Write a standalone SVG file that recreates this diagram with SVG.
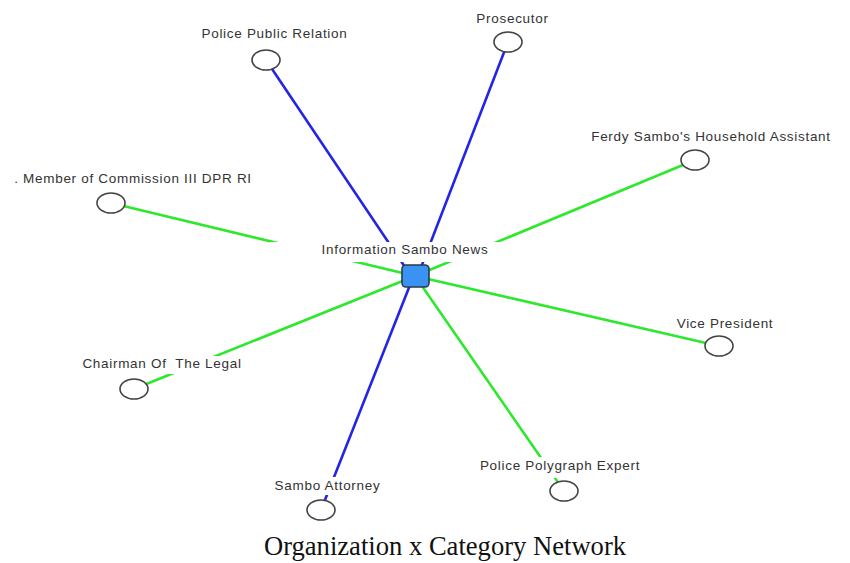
<svg xmlns="http://www.w3.org/2000/svg" width="850" height="563" viewBox="0 0 850 563">
<style>
.edge{fill:none;stroke-width:2.6;stroke-linecap:butt}
.blue{stroke:#2424e6}
.green{stroke:#2ee82e}
.lb{fill:#ffffff;stroke:none}
.lt{font-family:"Liberation Sans",Arial,sans-serif;font-size:13.5px;letter-spacing:0.7px;fill:#333333;text-anchor:middle;white-space:pre}
.nd{fill:#ffffff;stroke:#444444;stroke-width:1.6}
.cap{font-family:"Liberation Serif","Times New Roman",serif;font-size:26.6px;fill:#111111;text-anchor:middle}
</style>
<rect width="850" height="563" fill="#ffffff"/>
<g id="connectors">
<line class="edge blue" x1="266" y1="60" x2="407" y2="270"/>
<line class="edge blue" x1="508" y1="42" x2="420" y2="270"/>
<line class="edge green" x1="695" y1="160" x2="415" y2="276"/>
<line class="edge green" x1="111" y1="203" x2="415" y2="276"/>
<line class="edge green" x1="719" y1="346" x2="415" y2="276"/>
<line class="edge green" x1="134" y1="389" x2="415" y2="276"/>
<line class="edge blue" x1="321" y1="510" x2="412" y2="280"/>
<line class="edge green" x1="564" y1="491" x2="415" y2="276"/>
</g>
<g id="label-boxes">
<rect class="lb" x="270" y="242" width="236" height="20"/>
<rect class="lb" x="78" y="356" width="168" height="18"/>
<rect class="lb" x="476" y="457" width="168" height="21"/>
<rect class="lb" x="271" y="477" width="113" height="18"/>
</g>
<g id="n-police-public-relation">
<ellipse class="nd" cx="266" cy="60" rx="14" ry="10"/>
<text class="lt" x="274.5" y="38">Police Public Relation</text>
</g>
<g id="n-prosecutor">
<ellipse class="nd" cx="508" cy="42" rx="14" ry="10"/>
<text class="lt" x="512.5" y="23">Prosecutor</text>
</g>
<g id="n-household-assistant">
<ellipse class="nd" cx="695" cy="160" rx="14" ry="10"/>
<text class="lt" x="711" y="141">Ferdy Sambo's Household Assistant</text>
</g>
<g id="n-member-commission">
<ellipse class="nd" cx="111" cy="203" rx="14" ry="10"/>
<text class="lt" x="133" y="183">. Member of Commission III DPR RI</text>
</g>
<g id="n-vice-president">
<ellipse class="nd" cx="719" cy="346" rx="14" ry="10"/>
<text class="lt" x="725" y="328">Vice President</text>
</g>
<g id="n-chairman">
<ellipse class="nd" cx="134" cy="389" rx="14" ry="10"/>
<text class="lt" x="162" y="368" xml:space="preserve">Chairman Of  The Legal</text>
</g>
<g id="n-sambo-attorney">
<ellipse class="nd" cx="321" cy="510" rx="14" ry="10"/>
<text class="lt" x="327.5" y="490">Sambo Attorney</text>
</g>
<g id="n-polygraph-expert">
<ellipse class="nd" cx="564" cy="491" rx="14" ry="10"/>
<text class="lt" x="560" y="470">Police Polygraph Expert</text>
</g>
<g id="n-information-sambo-news">
<rect x="402" y="265" width="27" height="22" rx="4" ry="4" fill="#3a93f2" stroke="#2a3a4a" stroke-width="1.6"/>
<text class="lt" x="405" y="254">Information Sambo News</text>
</g>
<text class="cap" x="445" y="555">Organization x Category Network</text>
</svg>
